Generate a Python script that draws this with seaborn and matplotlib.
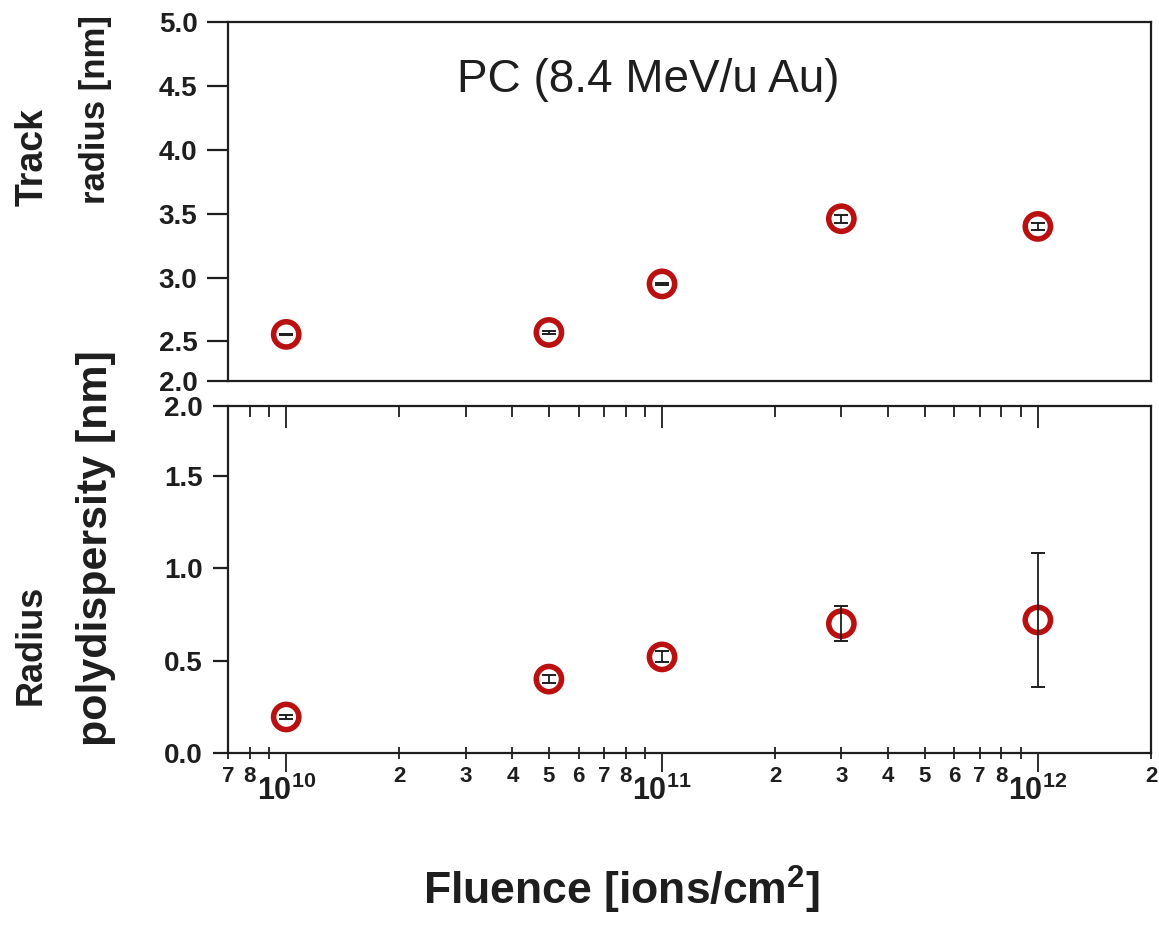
import numpy as np
import seaborn as sns
import matplotlib
import matplotlib.pyplot as plt
from matplotlib.ticker import FixedLocator, FixedFormatter, NullLocator

fluence = [1e10, 5e10, 1e11, 3e11, 1e12]
track_radius = [2.555, 2.57, 2.95, 3.46, 3.40]
track_radius_err = [0.005, 0.01, 0.01, 0.03, 0.03]
polydispersity = [0.195, 0.40, 0.52, 0.70, 0.72]
polydispersity_err = [0.01, 0.02, 0.03, 0.095, 0.365]

major_ticks = [1e10, 1e11, 1e12]
major_labels = [r'$\mathbf{10^{10}}$', r'$\mathbf{10^{11}}$', r'$\mathbf{10^{12}}$']
minor_ticks = [7e9, 8e9, 9e9] + [m * 1e10 for m in range(2, 10)] + [m * 1e11 for m in range(2, 10)] + [2e12]
minor_labels = ['7', '8', ''] + ['2', '3', '4', '5', '6', '7', '8', ''] * 2 + ['2']

top_ticks = [2.19, 2.5, 3.0, 3.5, 4.0, 4.5, 5.0]
top_labels = ['2.0', '2.5', '3.0', '3.5', '4.0', '4.5', '5.0']
bot_ticks = [0.0, 0.5, 1.0, 1.5, 1.878]
bot_labels = ['0.0', '0.5', '1.0', '1.5', '2.0']

RED = '#bb1010'
INK = '#1e1e1e'

sns.set_theme(style='ticks')
plt.rcParams['font.family'] = ['Liberation Sans', 'DejaVu Sans']
plt.rcParams['mathtext.fontset'] = 'custom'
plt.rcParams['mathtext.rm'] = 'Liberation Sans'
plt.rcParams['mathtext.bf'] = 'Liberation Sans:bold'
plt.rcParams['axes.linewidth'] = 1.6

W, H = 1159, 926
fig = plt.figure(figsize=(W / 100, H / 100), dpi=100)
ax_top = fig.add_axes([228 / W, 1 - 381 / H, (1151 - 228) / W, (381 - 22) / H])
ax_bot = fig.add_axes([228 / W, 1 - 753 / H, (1151 - 228) / W, (753 - 406) / H])


def draw(ax, y, yerr):
    ax.set_xscale('log')
    sns.scatterplot(x=fluence, y=y, ax=ax, marker='o', s=330, color=RED,
                    linewidth=4.0, legend=False, zorder=2)
    coll = ax.collections[-1]
    coll.set_facecolor('none')
    coll.set_edgecolor(RED)
    ax.errorbar(fluence, y, yerr=yerr, fmt='none', ecolor=INK,
                elinewidth=1.3, capsize=5, capthick=1.4, zorder=3)
    ax.set_xlim(7e9, 2e12)
    for s in ax.spines.values():
        s.set_visible(True)
        s.set_color(INK)


draw(ax_top, track_radius, track_radius_err)
draw(ax_bot, polydispersity, polydispersity_err)

# top panel
ax_top.set_ylim(top_ticks[0], 5.0)
ax_top.set_yticks(top_ticks)
ax_top.set_yticklabels(top_labels)
ax_top.xaxis.set_major_locator(NullLocator())
ax_top.xaxis.set_minor_locator(NullLocator())
ax_top.tick_params(axis='y', direction='out', length=15, width=1.6, pad=7,
                   labelsize=20, colors=INK)
for t in ax_top.get_yticklabels():
    t.set_fontweight('bold')
ax_top.text(0.455, 0.838, 'PC (8.4 MeV/u Au)', transform=ax_top.transAxes,
            ha='center', va='center', fontsize=33, color=INK)

# bottom panel
ax_bot.set_ylim(0.0, bot_ticks[-1])
ax_bot.set_yticks(bot_ticks)
ax_bot.set_yticklabels(bot_labels)
ax_bot.tick_params(axis='y', direction='out', length=11, width=1.6, pad=7,
                   labelsize=20, colors=INK)
for t in ax_bot.get_yticklabels():
    t.set_fontweight('bold')

ax_bot.xaxis.set_major_locator(FixedLocator(major_ticks))
ax_bot.xaxis.set_major_formatter(FixedFormatter(major_labels))
ax_bot.xaxis.set_minor_locator(FixedLocator(minor_ticks))
ax_bot.xaxis.set_minor_formatter(FixedFormatter(minor_labels))
ax_bot.tick_params(axis='x', which='major', direction='out', length=14, width=1.3,
                   pad=2, labelsize=22, colors=INK)
ax_bot.tick_params(axis='x', which='minor', direction='inout', length=9, width=1.3,
                   pad=5, labelsize=16, colors=INK)
for t in ax_bot.get_xticklabels(which='minor'):
    t.set_fontweight('bold')

sec = ax_bot.secondary_xaxis('top')
sec.xaxis.set_major_locator(FixedLocator(major_ticks))
sec.xaxis.set_minor_locator(FixedLocator(minor_ticks))
sec.xaxis.set_major_formatter(FixedFormatter(['', '', '']))
sec.xaxis.set_minor_formatter(FixedFormatter([''] * len(minor_ticks)))
sec.tick_params(which='major', direction='in', length=16, width=1.3, colors=INK)
sec.tick_params(which='minor', direction='in', length=8, width=1.3, colors=INK)
sec.spines['top'].set_visible(False)

# axis titles
lab = dict(rotation=90, ha='center', va='center', fontweight='bold', color=INK)
fig.text(33 / W, 1 - 157 / H, 'Track', fontsize=27, **lab)
fig.text(96 / W, 1 - 110 / H, 'radius [nm]', fontsize=25, **lab)
fig.text(31 / W, 1 - 645 / H, 'Radius', fontsize=26, **lab)
fig.text(96 / W, 1 - 548 / H, 'polydispersity [nm]', fontsize=31, **lab)
fig.text(621 / W, 1 - 905 / H, r'Fluence [ions/cm$^{\mathbf{2}}$]', ha='center',
         va='baseline', fontsize=32, fontweight='bold', color=INK)

fig.savefig('out.png', dpi=100)
